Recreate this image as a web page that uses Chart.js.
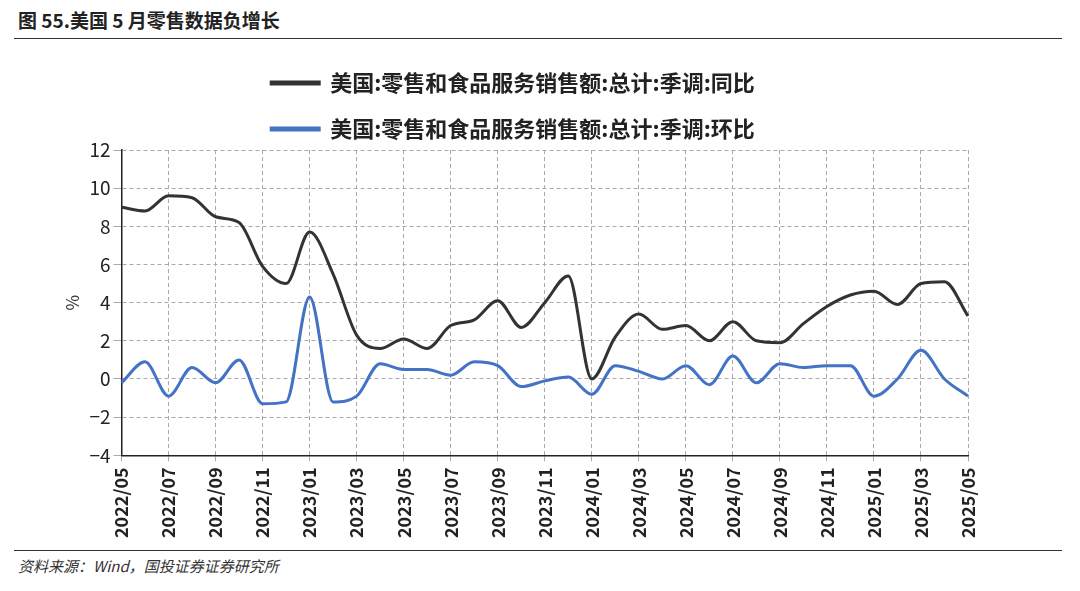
<!DOCTYPE html>
<html><head><meta charset="utf-8">
<script src="https://cdn.jsdelivr.net/npm/chart.js@4"></script>
<style>
body{margin:0;width:1080px;height:591px;background:#fff;font-family:"Noto Sans CJK SC","Noto Sans",sans-serif;position:relative;overflow:hidden}
#title{position:absolute;left:18px;top:6px;font-size:19px;font-weight:bold;color:#222}
#tl{position:absolute;left:14px;right:18px;top:38px;border-top:1.5px solid #333}
#bl{position:absolute;left:14px;right:18px;top:550px;border-top:1px solid #333}
#src{position:absolute;left:18px;top:555px;font-size:15px;font-style:italic;color:#333}
#wrap{position:absolute;left:0;top:48px;width:1080px;height:496px}
</style></head><body>
<div id="title">图 55.美国 5 月零售数据负增长</div>
<div id="tl"></div>
<div id="wrap"><canvas id="c"></canvas></div>
<div id="bl"></div>
<div id="src">资料来源：Wind，国投证券证券研究所</div>
<script>
const months = [];
for (let y = 2022, m = 5; y < 2025 || m <= 5; m++) { if (m > 12) { m = 1; y++; } if (y === 2025 && m > 5) break; months.push(y + '/' + String(m).padStart(2, '0')); }
const yoy = [9.0,8.8,9.6,9.5,8.5,8.2,5.9,5.0,7.7,5.5,2.3,1.6,2.1,1.6,2.8,3.1,4.1,2.7,4.0,5.4,0.0,2.2,3.4,2.6,2.8,2.0,3.0,2.0,1.9,2.9,3.8,4.4,4.6,3.9,5.0,5.1,3.3];
const mom = [-0.2,0.9,-0.9,0.6,-0.2,1.0,-1.3,-1.2,4.3,-1.2,-0.9,0.8,0.5,0.5,0.2,0.9,0.7,-0.4,-0.1,0.1,-0.8,0.7,0.4,0.0,0.7,-0.3,1.2,-0.2,0.8,0.6,0.7,0.7,-0.9,0.0,1.5,0.0,-0.9];

Chart.defaults.font.family = 'Noto Sans CJK SC';
new Chart(document.getElementById('c'), {
    type: 'line',
    data: {
        labels: months,
        datasets: [
            { label: '美国:零售和食品服务销售额:总计:季调:同比', data: yoy, borderColor: '#333333', borderWidth: 3, pointRadius: 0, cubicInterpolationMode: 'monotone' },
            { label: '美国:零售和食品服务销售额:总计:季调:环比', data: mom, borderColor: '#4472C4', borderWidth: 3, pointRadius: 0, cubicInterpolationMode: 'monotone' }
        ]
    },
    options: {
        responsive: true, maintainAspectRatio: false, animation: false,
        layout: { padding: { left: 58, right: 112, top: 0, bottom: 0 } },
        plugins: {
            legend: {
                position: 'top', maxWidth: 600,
                labels: { boxWidth: 48, boxHeight: 2, padding: 24, color: '#222', font: { size: 22, weight: 'bold' } }
            },
            tooltip: { enabled: false }
        },
        scales: {
            x: {
                ticks: { autoSkip: false, maxRotation: 90, minRotation: 90, color: '#222', padding: 6, font: { size: 18, weight: 'bold' },
                    callback: function (v, i) { return i % 2 === 0 ? months[i] : ''; } },
                grid: { color: ctx => ctx.index % 2 === 0 ? '#aaa' : 'rgba(0,0,0,0)', tickLength: 6 },
                border: { color: '#222', width: 1.5, dash: [4, 3] }
            },
            y: {
                min: -4, max: 12,
                ticks: { stepSize: 2, color: '#222', font: { size: 19 }, callback: v => v < 0 ? '−' + Math.abs(v) : v },
                grid: { color: '#aaa' },
                border: { color: '#222', width: 1.5, dash: [4, 3] },
                title: { display: true, text: '%', color: '#333', font: { size: 17 } }
            }
        }
    }
});
</script>
</body></html>
